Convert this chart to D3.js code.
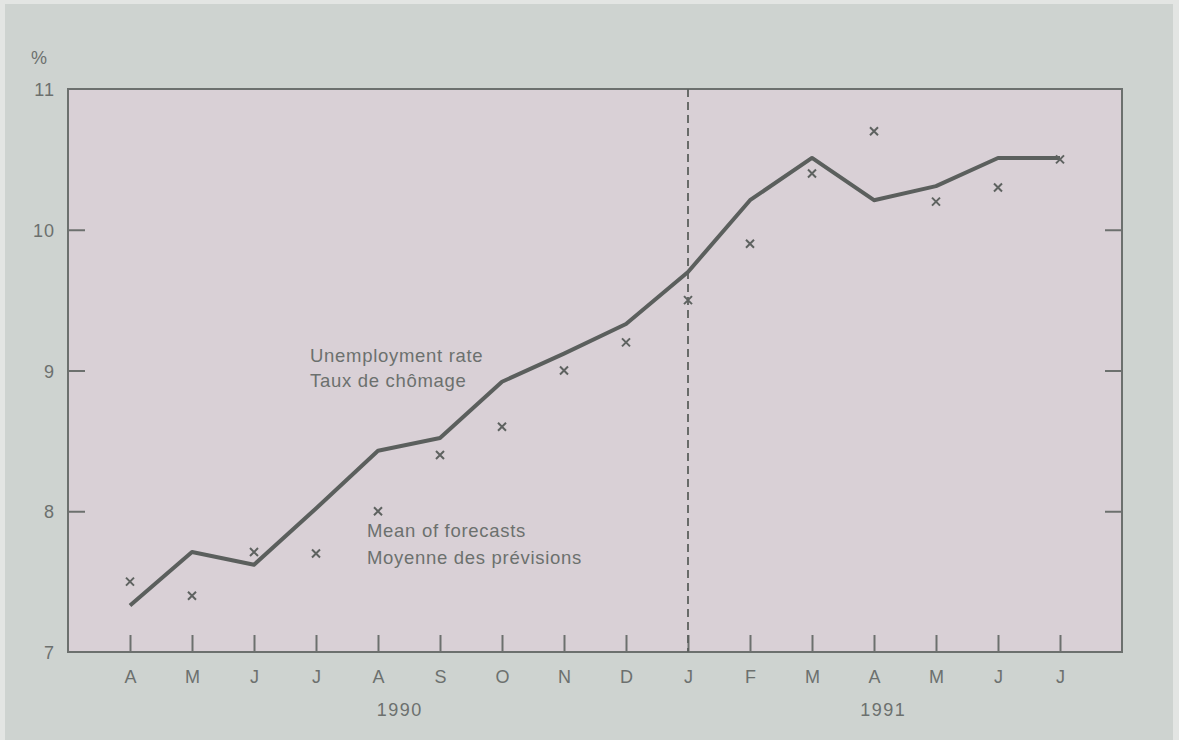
<!DOCTYPE html>
<html>
<head>
<meta charset="utf-8">
<script src="https://cdn.jsdelivr.net/npm/d3@7"></script>
<style>
  body { margin: 0; background: #e3e5e3; }
  svg { display: block; font-family: "Liberation Sans", Arial, sans-serif; }
</style>
</head>
<body>
<svg id="chart" width="1179" height="740"></svg>
<script>
// months from April 1990 to July 1991
const months = ['A', 'M', 'J', 'J', 'A', 'S', 'O', 'N', 'D', 'J', 'F', 'M', 'A', 'M', 'J', 'J'];
const rate = [7.33, 7.71, 7.62, 8.02, 8.43, 8.52, 8.92, 9.12, 9.33, 9.70, 10.21, 10.51, 10.21, 10.31, 10.51, 10.51];
const forecast = [7.50, 7.40, 7.71, 7.70, 8.00, 8.40, 8.60, 9.00, 9.20, 9.50, 9.90, 10.40, 10.70, 10.20, 10.30, 10.50];
const yTicks = [7, 8, 9, 10, 11];
const years = [{ label: '1990', at: 4.35 }, { label: '1991', at: 12.15 }];
const yearBreak = 9;

const margin = { left: 68, right: 57, top: 89, bottom: 88 };
const width = 1179 - margin.left - margin.right;
const height = 740 - margin.top - margin.bottom;
const ink = '#6c706e';

const svg = d3.select('#chart');

// outer panel
svg.append('rect')
    .attr('x', 5).attr('y', 4)
    .attr('width', 1168).attr('height', 736)
    .attr('fill', '#ced3d0');

const g = svg.append('g')
    .attr('transform', 'translate(' + margin.left + ',' + margin.top + ')');

const x = d3.scaleLinear()
    .domain([-1, months.length])
    .range([0, width]);

const y = d3.scaleLinear()
    .domain([7, 11])
    .range([height, 0]);

g.append('rect')
    .attr('width', width).attr('height', height)
    .attr('fill', '#d9d0d6');

// inward ticks on both sides
g.append('g')
    .call(d3.axisLeft(y).tickValues(yTicks.slice(1, -1)).tickSize(-17).tickFormat(''))
    .call(a => a.select('.domain').remove())
    .selectAll('line').attr('stroke', ink).attr('stroke-width', 2);

g.append('g')
    .attr('transform', 'translate(' + width + ',0)')
    .call(d3.axisRight(y).tickValues(yTicks.slice(1, -1)).tickSize(-17).tickFormat(''))
    .call(a => a.select('.domain').remove())
    .selectAll('line').attr('stroke', ink).attr('stroke-width', 2);

// y labels outside
g.selectAll('.ylab')
    .data(yTicks)
    .enter()
    .append('text')
    .attr('class', 'ylab')
    .attr('x', -13)
    .attr('y', d => y(d) + 7)
    .attr('text-anchor', 'end')
    .attr('font-size', 18)
    .attr('letter-spacing', 1)
    .attr('fill', ink)
    .text(d => d);

g.append('text')
    .attr('x', -37).attr('y', -25)
    .attr('font-size', 18)
    .attr('fill', ink)
    .text('%');

// x axis: ticks point up into the plot
const xAxis = g.append('g')
    .attr('transform', 'translate(0,' + height + ')')
    .call(d3.axisBottom(x).tickValues(d3.range(months.length)).tickSize(-17).tickFormat(i => months[i]));
xAxis.select('.domain').remove();
xAxis.selectAll('line').attr('stroke', ink).attr('stroke-width', 2);
xAxis.selectAll('text')
    .attr('y', 18)
    .attr('dy', '0.71em')
    .attr('font-size', 18)
    .attr('fill', ink);

g.selectAll('.year')
    .data(years)
    .enter()
    .append('text')
    .attr('class', 'year')
    .attr('x', d => x(d.at))
    .attr('y', height + 64)
    .attr('text-anchor', 'middle')
    .attr('font-size', 18)
    .attr('letter-spacing', 1.5)
    .attr('fill', ink)
    .text(d => d.label);

// frame
g.append('path')
    .attr('d', 'M0,0H' + width + 'V' + height + 'H0Z')
    .attr('fill', 'none')
    .attr('stroke', ink)
    .attr('stroke-width', 2);

// year break
g.append('line')
    .attr('x1', x(yearBreak)).attr('x2', x(yearBreak))
    .attr('y1', 0).attr('y2', height)
    .attr('stroke', '#5c605e')
    .attr('stroke-width', 1.8)
    .style('stroke-dasharray', '8,5');

const line = d3.line()
    .x((d, i) => x(i))
    .y(d => y(d));

g.append('path')
    .attr('d', line(rate))
    .attr('fill', 'none')
    .attr('stroke', '#5b5f5d')
    .attr('stroke-width', 4)
    .attr('stroke-linejoin', 'round');

// forecast crosses
const s = 4;
g.selectAll('.cross')
    .data(forecast)
    .enter()
    .append('path')
    .attr('class', 'cross')
    .attr('d', (d, i) => {
        const cx = x(i), cy = y(d);
        return 'M' + (cx - s) + ',' + (cy - s) + 'L' + (cx + s) + ',' + (cy + s) +
               'M' + (cx + s) + ',' + (cy - s) + 'L' + (cx - s) + ',' + (cy + s);
    })
    .attr('stroke', '#5e6260')
    .attr('stroke-width', 2);

// series labels
const labels = [
    { text: 'Unemployment rate', x: 242, y: 273 },
    { text: 'Taux de chômage', x: 242, y: 298 },
    { text: 'Mean of forecasts', x: 299, y: 448 },
    { text: 'Moyenne des prévisions', x: 299, y: 475 }
];
g.selectAll('.lab')
    .data(labels)
    .enter()
    .append('text')
    .attr('class', 'lab')
    .attr('x', d => d.x)
    .attr('y', d => d.y)
    .attr('font-size', 18.5)
    .attr('letter-spacing', 0.7)
    .attr('fill', ink)
    .text(d => d.text);
</script>
</body>
</html>
